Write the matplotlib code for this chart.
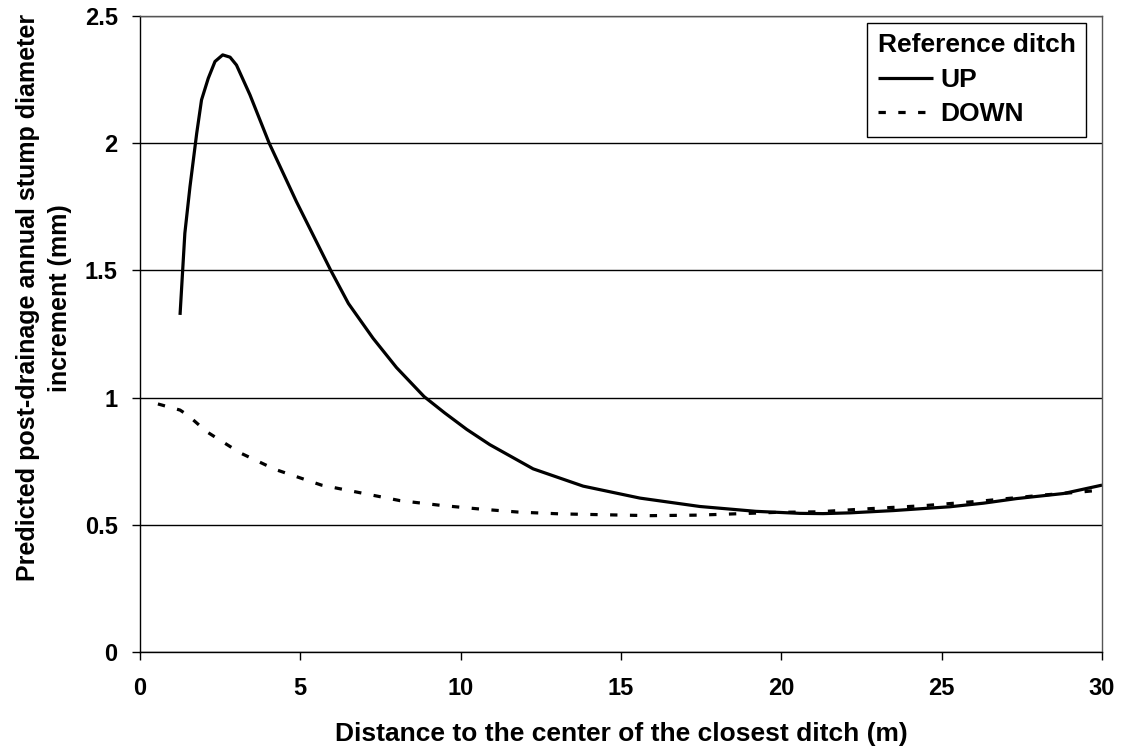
import matplotlib.pyplot as plt

plt.rcParams['font.family'] = ['Liberation Sans', 'DejaVu Sans']
plt.rcParams['font.weight'] = 'bold'

# predicted increment, UP reference ditch
up_x = [1.25, 1.40, 1.56, 1.77, 1.92, 2.13, 2.34, 2.58, 2.81, 3.01, 3.43, 4.03, 4.88, 5.95,
        6.5, 7.27, 8.0, 8.86, 9.5, 10.19, 10.91, 12.26, 13.82, 15.59, 17.46, 19.2, 20.58,
        21.3, 22.14, 23.5, 25.26, 26.3, 27.33, 28.8, 30]
up_y = [1.325, 1.646, 1.829, 2.039, 2.170, 2.255, 2.321, 2.347, 2.338, 2.307, 2.19, 2.0,
        1.77, 1.50, 1.37, 1.233, 1.118, 1.004, 0.94, 0.875, 0.815, 0.72, 0.652, 0.605, 0.572,
        0.553, 0.545, 0.544, 0.547, 0.556, 0.571, 0.585, 0.603, 0.623, 0.656]

# predicted increment, DOWN reference ditch
down_x = [0.56, 1.25, 1.5, 2.08, 3.12, 4.21, 5.66, 7.59, 8.11, 9.41, 10.6, 11.8, 13.1,
          15.9, 17.36, 18.09, 19.85, 21.15, 22.55, 24.42, 26.29, 28.17, 29.42, 30]
down_y = [0.975, 0.951, 0.93, 0.866, 0.783, 0.718, 0.656, 0.608, 0.595, 0.576, 0.562, 0.55,
          0.543, 0.536, 0.538, 0.541, 0.549, 0.551, 0.562, 0.575, 0.594, 0.617, 0.630, 0.637]

xticks = [0, 5, 10, 15, 20, 25, 30]
yticks = [0, 0.5, 1, 1.5, 2, 2.5]
ytick_labels = ['0', '0.5', '1', '1.5', '2', '2.5']

fig = plt.figure(figsize=(11.25, 7.53), dpi=100)
ax = fig.add_axes([0.1244, 0.1341, 0.8552, 0.8447])

ax.plot(up_x, up_y, '-', color='black', lw=2.3, label='UP',
        solid_joinstyle='round', solid_capstyle='butt')
ax.plot(down_x, down_y, color='black', lw=2.3, linestyle=(0, (2.3, 3.9)), label='DOWN',
        dash_joinstyle='round')

ax.set_xlim(0, 30)
ax.set_ylim(0, 2.5)
ax.set_xticks(xticks)
ax.set_yticks(yticks, ytick_labels)
ax.yaxis.grid(True, color='black', lw=1)
ax.set_axisbelow(True)
ax.tick_params(labelsize=17, direction='out', length=6, width=1)
ax.tick_params(axis='x', pad=12)
ax.tick_params(axis='y', pad=10)
for s in ax.spines.values():
    s.set_linewidth(1)
ax.spines['top'].set_color('#555555')
ax.spines['right'].set_color('#555555')

ax.set_xlabel('Distance to the center of the closest ditch (m)', fontsize=19,
              fontweight='bold', labelpad=16)
ax.set_ylabel('Predicted post-drainage annual stump diameter\nincrement (mm)',
              fontsize=18, fontweight='bold', linespacing=1.4)
ax.yaxis.set_label_coords(-0.0707, 0.557)

leg = ax.legend(title='Reference ditch', loc='upper right',
                bbox_to_anchor=(0.9834, 0.9895), borderaxespad=0, fontsize=19,
                title_fontproperties={'weight': 'bold', 'size': 19},
                fancybox=False, edgecolor='black', framealpha=1,
                handlelength=2.1, handletextpad=0.27,
                borderpad=0.4, labelspacing=0.4)
leg.get_frame().set_linewidth(1)
leg._legend_box.align = 'left'

fig.savefig('out.png', dpi=100)
